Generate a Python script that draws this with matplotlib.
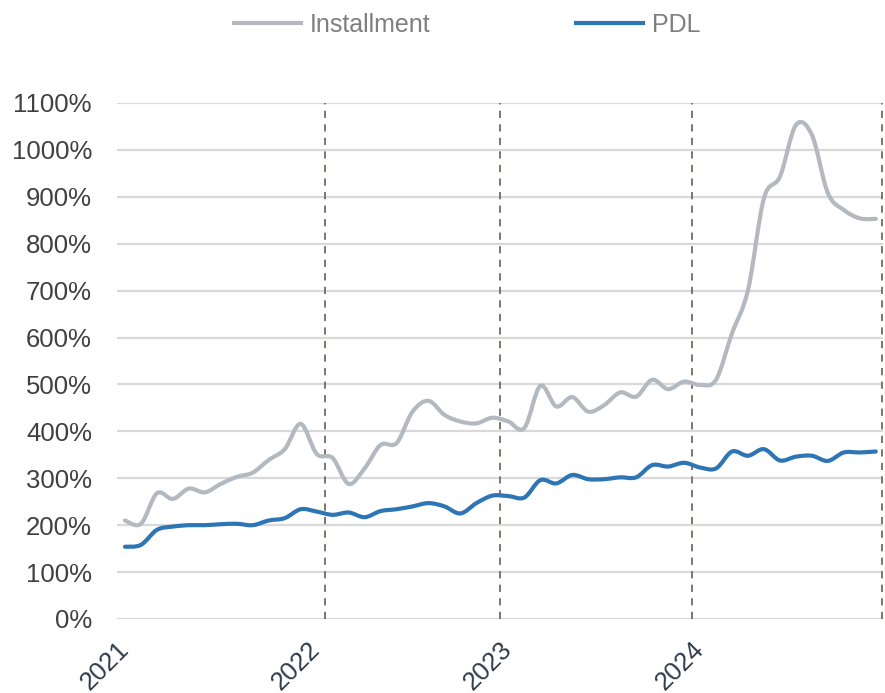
import numpy as np
import matplotlib
matplotlib.use("Agg")
import matplotlib.pyplot as plt
from matplotlib.path import Path
from matplotlib.patches import PathPatch
from matplotlib.lines import Line2D

plt.rcParams['font.family'] = ['Liberation Sans', 'DejaVu Sans']

# monthly values, Jan 2021 - Dec 2024 (percent)
installment = [210, 203, 268, 256, 278, 270, 288, 303, 312, 339, 362, 416,
               352, 343, 288, 321, 371, 375, 442, 465, 435, 421, 417, 429,
               421, 407, 497, 453, 473, 442, 456, 483, 474, 510, 490, 506,
               499, 510, 609, 701, 897, 943, 1053, 1032, 908, 872, 854, 853]
pdl = [154, 158, 190, 197, 200, 200, 202, 203, 200, 210, 215, 234,
       229, 222, 227, 217, 230, 234, 240, 247, 240, 225, 247, 263,
       262, 259, 296, 289, 307, 298, 298, 302, 302, 328, 325, 333,
       323, 321, 357, 348, 362, 338, 346, 348, 337, 355, 355, 357]
year_labels = ['2021', '2022', '2023', '2024']
year_ticks = [0, 12, 24, 36]
year_breaks = [12.5, 23.5, 35.5, 47.4]

GRAY = '#b3b9bf'
BLUE = '#2e75b6'


def smooth_path(y):
    # catmull-rom style smoothed line as cubic bezier segments
    x = np.arange(len(y), dtype=float)
    y = np.asarray(y, dtype=float)
    pts = np.column_stack([x, y])
    verts = [pts[0]]
    codes = [Path.MOVETO]
    n = len(pts)
    for i in range(n - 1):
        p0 = pts[max(i - 1, 0)]
        p1 = pts[i]
        p2 = pts[i + 1]
        p3 = pts[min(i + 2, n - 1)]
        c1 = p1 + (p2 - p0) / 6.0
        c2 = p2 - (p3 - p1) / 6.0
        verts += [c1, c2, p2]
        codes += [Path.CURVE4] * 3
    return Path(verts, codes)


fig = plt.figure(figsize=(8.85, 6.93), dpi=100)
ax = fig.add_axes([0.1322, 0.1068, 0.8655, 0.7446])

ax.set_xlim(-0.5, 47.45)
ax.set_ylim(0, 1100)

for v in range(0, 1101, 100):
    ax.axhline(v, color='#d9d9d9', lw=1.6, zorder=1)
for b in year_breaks:
    ax.axvline(b, color='#76695f', lw=1.3, ls=(0, (4, 3.5)), zorder=2)

ax.add_patch(PathPatch(smooth_path(installment), fill=False, edgecolor=GRAY,
                       lw=3.0, capstyle='round', joinstyle='round', zorder=3))
ax.add_patch(PathPatch(smooth_path(pdl), fill=False, edgecolor=BLUE,
                       lw=3.0, capstyle='round', joinstyle='round', zorder=4))

ax.set_yticks(range(0, 1101, 100))
ax.set_yticklabels([f'{v}%' for v in range(0, 1101, 100)], fontsize=18.5, color='#404040')
ax.set_xticks(year_ticks)
ax.set_xticklabels(year_labels, fontsize=18.5, color='#2f3b4a', rotation=45,
                   ha='right', va='center', rotation_mode='anchor')
ax.tick_params(axis='y', length=0, pad=18)
ax.tick_params(axis='x', length=0, pad=19)
for s in ax.spines.values():
    s.set_visible(False)

handles = [Line2D([], [], color=GRAY, lw=3.0), Line2D([], [], color=BLUE, lw=3.0)]
leg = fig.legend(handles, ['Installment', 'PDL'], loc='center', ncol=2,
                 bbox_to_anchor=(0.528, 0.964), frameon=False, fontsize=18,
                 handlelength=2.7, handletextpad=0.35, columnspacing=5.8)
for t in leg.get_texts():
    t.set_color('#7f7f7f')

fig.savefig('out.png', dpi=100)
